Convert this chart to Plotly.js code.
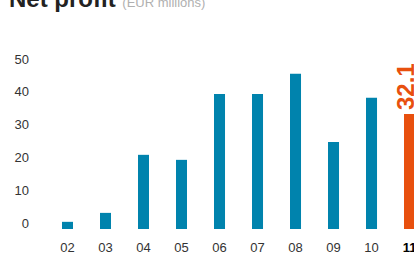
<!DOCTYPE html>
<html>
<head>
<meta charset="utf-8">
<script src="https://cdn.plot.ly/plotly-3.0.1.min.js"></script>
<style>html,body{margin:0;padding:0;background:#fff;overflow:hidden}#chart{width:414px;height:260px}</style>
</head>
<body>
<div id="chart"></div>
<script>
var years = ['02','03','04','05','06','07','08','09','10','11'];
var netProfit = [2.0, 4.5, 20.7, 19.3, 37.7, 37.7, 43.3, 24.3, 36.6, 32.1];
var yTickValues = [0, 10, 20, 30, 40, 50];
var highlightLabel = '32.1';

var blue = '#0083ad';
var orange = '#e8500e';
var last = years.length - 1;
var colors = years.map(function(_, i){ return i === last ? orange : blue; });
var tickText = years.map(function(y, i){ return i === last ? '<b><span style="color:#000">' + y + '</span></b>' : y; });

var FONT = '"Liberation Sans", Arial, Helvetica, sans-serif';

var data = [
  {type:'bar', x: years, y: netProfit, marker:{color: colors}, width: 0.29, hoverinfo:'skip', showlegend:false},
  {type:'scatter', mode:'markers', x: [], y: [], yaxis:'y2', showlegend:false, hoverinfo:'skip'}
];

var layout = {
  width: 414, height: 260,
  margin: {l: 30, r: 0, t: 40, b: 31, pad: 0},
  paper_bgcolor: '#fff', plot_bgcolor: '#fff',
  font: {family: FONT, size: 13, color: '#333'},
  showlegend: false,
  xaxis: {
    type: 'category', range: [-0.987, 9.118], showgrid: false, zeroline: false, showline: false,
    ticks: '', tickvals: years, ticktext: tickText, ticklabelstandoff: 9,
    tickfont: {family: FONT, size: 13, color: '#333'}, fixedrange: true
  },
  yaxis: {
    range: [0, 52.75], showgrid: false, zeroline: false, showline: false,
    showticklabels: false, ticks: '', fixedrange: true
  },
  yaxis2: {
    overlaying: 'y', side: 'left', range: [-1.83, 55.79], showgrid: false, zeroline: false, showline: false,
    tickvals: yTickValues, ticktext: yTickValues.map(String), ticks: '',
    tickfont: {family: FONT, size: 13, color: '#333'}, fixedrange: true
  },
  annotations: [
    {xref:'paper', yref:'paper', x: (7-30)/384, y: 1.217, xanchor:'left', yanchor:'middle', showarrow:false,
     text: '<b>Net profit</b> <span style="font-size:13px;color:#b0b0b0">(EUR millions)</span>',
     font: {family: FONT, size: 24, color: '#222'}},
    {xref:'x', yref:'y', x: last, y: netProfit[last], xanchor:'center', yanchor:'bottom', showarrow:false,
     text: '<b>' + highlightLabel + '</b>', textangle: -90, xshift: -4, yshift: 2,
     font: {family: FONT, size: 24, color: orange}}
  ]
};

Plotly.newPlot('chart', data, layout, {displayModeBar: false, staticPlot: true});
</script>
</body>
</html>
